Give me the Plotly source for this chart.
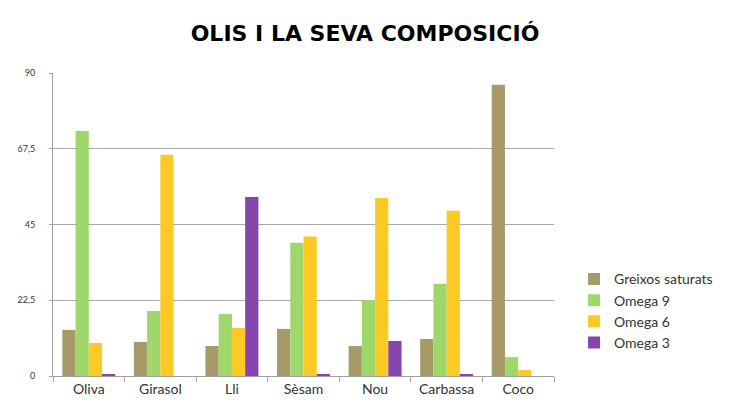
import plotly.graph_objects as go

categories = ["Oliva", "Girasol", "Lli", "Sèsam", "Nou", "Carbassa", "Coco"]
greixos_saturats = [13.7, 10.1, 8.9, 14.0, 8.9, 11.0, 86.5]
omega9 = [72.8, 19.3, 18.4, 39.6, 22.5, 27.4, 5.6]
omega6 = [9.8, 65.7, 14.3, 41.4, 52.9, 49.1, 1.8]
omega3 = [0.6, 0.0, 53.2, 0.3, 10.4, 0.3, 0.0]
y_tickvals = [0, 22.5, 45, 67.5, 90]
y_ticktext = ["0", "22,5", "45", "67,5", "90"]

series = [
    ("Greixos saturats", greixos_saturats, "#A69A68"),
    ("Omega 9", omega9, "#A0D76B"),
    ("Omega 6", omega6, "#FDCA25"),
    ("Omega 3", omega3, "#8645AC"),
]

fig = go.Figure()
for name, vals, color in series:
    fig.add_trace(go.Bar(x=categories, y=vals, name=name, marker_color=color,
                         marker_line_width=0))

fig.update_layout(
    width=730, height=420,
    margin=dict(l=53, r=174, t=73, b=44),
    paper_bgcolor="white", plot_bgcolor="white",
    barmode="group", bargap=0.26, bargroupgap=0,
    title=dict(text="<b>OLIS I LA SEVA COMPOSICIÓ</b>", x=0.5, xanchor="center",
               y=0.92, yanchor="middle",
               font=dict(family="DejaVu Sans", size=22, color="black")),
    legend=dict(x=1.04, xanchor="left", y=0.215, yanchor="middle",
                font=dict(family="Lato", size=14, color="#333333"),
                itemwidth=30, tracegroupgap=0),
    font=dict(family="Lato", color="#333333"),
    showlegend=True,
)
fig.update_xaxes(
    type="category", tickson="boundaries", ticks="outside", ticklen=5,
    tickcolor="#A0A0A0", showline=True, linecolor="#A0A0A0", linewidth=1,
    tickfont=dict(family="Lato", size=14, color="#333333"), showgrid=False,
)
fig.update_yaxes(
    range=[0, 90], tickvals=y_tickvals, ticktext=y_ticktext,
    ticks="outside", ticklen=3, tickcolor="#A0A0A0",
    showline=True, linecolor="#A0A0A0", linewidth=1,
    showgrid=True, gridcolor="#A8A8A8", gridwidth=1, zeroline=False,
    tickfont=dict(family="Lato", size=9, color="#333333"),
    ticklabelstandoff=12,
)

fig.write_html("out.html")
